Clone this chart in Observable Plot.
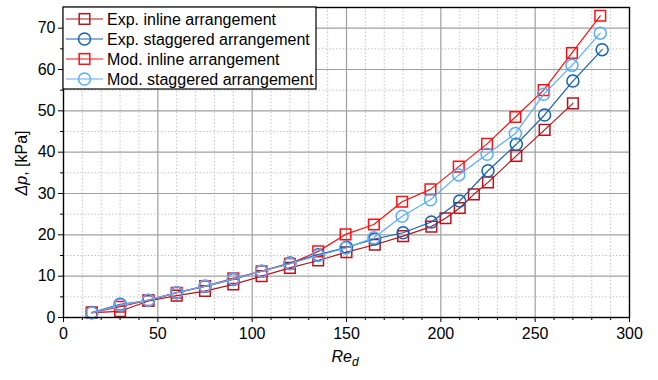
<!DOCTYPE html>
<html><head><meta charset="utf-8">
<script src="https://cdn.jsdelivr.net/npm/d3@7"></script>
<script src="https://cdn.jsdelivr.net/npm/@observablehq/plot@0.6"></script>
<style>
body{margin:0;background:#fff;font-family:"Liberation Sans",Arial,sans-serif;}
#wrap{position:relative;width:658px;height:380px;}
</style></head><body><div id="wrap"></div>
<script>
const seriesNames = ["Exp. inline arrangement","Exp. staggered arrangement","Mod. inline arrangement","Mod. staggered arrangement"];
const seriesColors = ["#b8141c","#1462b0","#ff1010","#5aaeff"];
const seriesSymbols = ["square","circle","square","circle"];

const expInlineRe = [15,30,45,60,75,90,105,120,135,150,165,180,195,202.5,210,217.5,225,240,255,270];
const expInlineDp = [1.2,1.5,4.0,5.3,6.4,8.0,10.0,12.0,13.8,15.8,17.6,19.7,22.0,24.0,26.5,29.8,32.7,39.1,45.4,51.8];

const expStagRe = [15,30,45,60,75,90,105,120,135,150,165,180,195,210,225,240,255,270,285.5];
const expStagDp = [1.2,3.2,4.1,6.0,7.5,9.2,11.2,13.2,15.2,17.0,19.0,20.5,23.1,28.2,35.5,41.9,49.0,57.2,64.8];

const modInlineRe = [15,30,45,60,75,90,105,120,135,149.5,164.5,179.5,194.5,209.5,224.5,239.5,254.5,269.5,284.5];
const modInlineDp = [1.2,2.6,4.2,6.0,7.6,9.5,11.2,13.0,16.0,20.1,22.5,28.0,31.0,36.5,42.0,48.5,55.0,64.0,73.0];

const modStagRe = [15,30,45,60,75,90,105,120,135,149.5,164.5,179.5,194.5,209.5,224.5,239.5,254.5,269.5,284.5];
const modStagDp = [1.1,3.0,4.2,6.0,7.6,9.3,11.2,13.0,15.0,16.8,19.3,24.5,28.5,34.5,39.5,44.5,54.0,61.0,68.8];

const xMajorTicks = [0,50,100,150,200,250,300];
const yMajorTicks = [0,10,20,30,40,50,60,70];

const seriesRe = [expInlineRe, expStagRe, modInlineRe, modStagRe];
const seriesDp = [expInlineDp, expStagDp, modInlineDp, modStagDp];

const data = [];
seriesNames.forEach((name, i) => {
  seriesRe[i].forEach((re, j) => data.push({series: name, Re: re, dp: seriesDp[i][j]}));
});

const xMinor = d3.range(0, 301, 10).filter(v => v % 50 !== 0);
const yMinor = d3.range(5, 75, 10);

const FONT = '"Liberation Sans", Arial, sans-serif';

const seriesMarks = seriesNames.flatMap(name => {
  const d = data.filter(r => r.series === name);
  return [
    Plot.line(d, {x: "Re", y: "dp", stroke: "series", strokeWidth: 1.2}),
    Plot.dot(d, {x: "Re", y: "dp", stroke: "series", symbol: "series", r: 6, strokeWidth: 1.5, fill: "none"})
  ];
});

const plot = Plot.plot({
  width: 658, height: 380,
  marginLeft: 63, marginRight: 29, marginTop: 7, marginBottom: 63,
  style: {fontFamily: FONT, fontSize: "16px", color: "#000", background: "#fff"},
  x: {domain: [0, 300], label: null},
  y: {domain: [0, 75], label: null},
  color: {domain: seriesNames, range: seriesColors},
  symbol: {domain: seriesNames, range: seriesSymbols},
  marks: [
    Plot.gridX(xMinor, {stroke: "#c4c4c4", strokeOpacity: 1, strokeDasharray: "1.5,2"}),
    Plot.gridY(yMinor, {stroke: "#c4c4c4", strokeOpacity: 1, strokeDasharray: "1.5,2"}),
    Plot.gridX(xMajorTicks.slice(1, -1), {stroke: "#a0a0a0", strokeOpacity: 1, strokeWidth: 1.2}),
    Plot.gridY(yMajorTicks.slice(1), {stroke: "#a0a0a0", strokeOpacity: 1, strokeWidth: 1.2}),
    Plot.axisX(xMinor, {tickSize: 3, text: null, stroke: "#000"}),
    Plot.axisY(yMinor, {tickSize: 3, text: null, stroke: "#000"}),
    Plot.axisX(xMajorTicks, {tickSize: 5, tickPadding: 5, fontSize: 16, stroke: "#000", fill: "#000"}),
    Plot.axisY(yMajorTicks, {tickSize: 5, tickPadding: 3, fontSize: 16, stroke: "#000", fill: "#000"}),
    ...seriesMarks,
    Plot.frame({stroke: "#000", strokeWidth: 1.4})
  ]
});

document.getElementById("wrap").appendChild(plot);

// Axis titles and legend (layout overlay)
const svg = d3.select(plot);
const ylab = svg.append("text")
  .attr("transform", "translate(27,163) rotate(-90)")
  .attr("text-anchor", "middle").attr("font-family", FONT)
  .attr("font-size", 16).attr("fill", "#000");
ylab.append("tspan").attr("font-style", "italic").text("Δp");
ylab.append("tspan").text(", [kPa]");

const xlab = svg.append("text")
  .attr("x", 345).attr("y", 362)
  .attr("text-anchor", "middle").attr("font-family", FONT)
  .attr("font-size", 16).attr("fill", "#000").attr("font-style", "italic");
xlab.append("tspan").text("Re");
xlab.append("tspan").attr("font-size", 12).attr("dy", 4).text("d");

const lg = svg.append("g").attr("transform", "translate(63,7)");
lg.append("rect").attr("width", 253).attr("height", 82)
  .attr("fill", "#fff").attr("stroke", "#000").attr("stroke-width", 1.2);
seriesNames.forEach((name, i) => {
  const y = 12 + i * 20;
  const g = lg.append("g").attr("transform", `translate(0,${y})`);
  g.append("line").attr("x1", 3).attr("x2", 40).attr("y1", 0).attr("y2", 0)
    .attr("stroke", seriesColors[i]).attr("stroke-width", 1.2);
  if (seriesSymbols[i] === "square") {
    g.append("rect").attr("x", 21.5 - 5.3).attr("y", -5.3).attr("width", 10.6).attr("height", 10.6)
      .attr("fill", "none").attr("stroke", seriesColors[i]).attr("stroke-width", 1.5);
  } else {
    g.append("circle").attr("cx", 21.5).attr("cy", 0).attr("r", 6)
      .attr("fill", "none").attr("stroke", seriesColors[i]).attr("stroke-width", 1.5);
  }
  g.append("text").attr("x", 44).attr("y", 0).attr("dy", "0.35em")
    .attr("text-anchor", "start").attr("font-family", FONT)
    .attr("font-size", 16).attr("fill", "#000").text(name);
});
</script>
</body></html>
